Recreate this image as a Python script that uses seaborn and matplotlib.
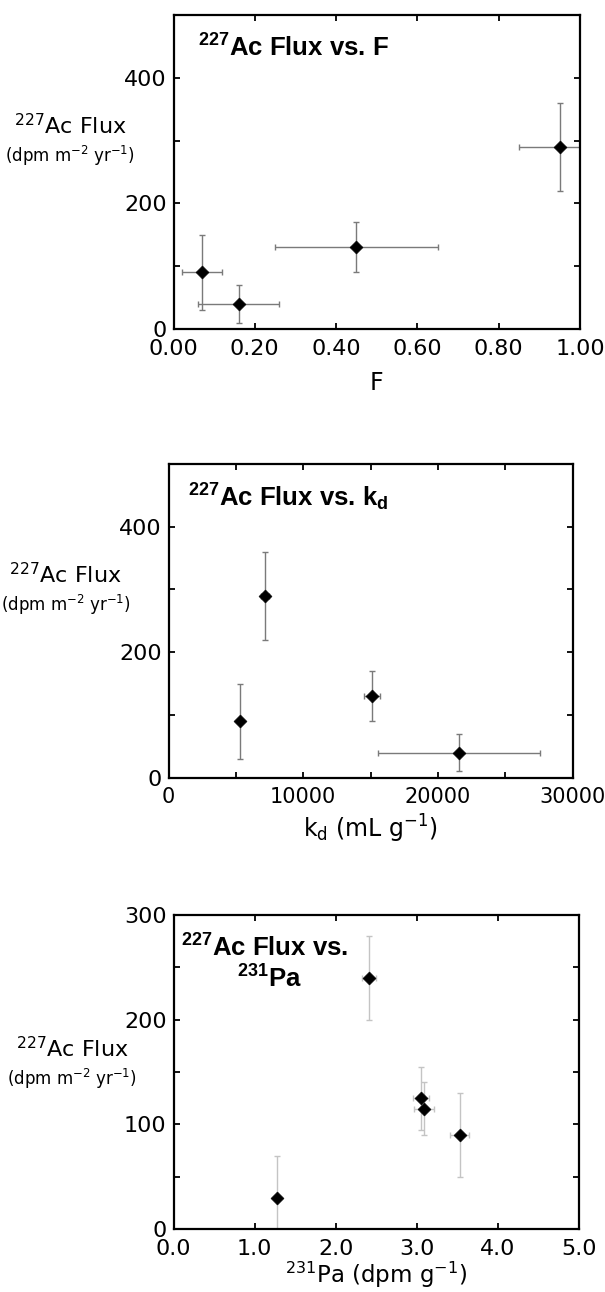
import matplotlib
matplotlib.use("Agg")
import matplotlib.pyplot as plt
from matplotlib.ticker import MultipleLocator, FormatStrFormatter
import seaborn as sns

# ---------------- data ----------------
# Panel 1: 227Ac flux vs F
f_vals = [0.07, 0.16, 0.45, 0.95]
f_err = [0.05, 0.10, 0.20, 0.10]
flux_f = [90, 40, 130, 290]
flux_f_err = [60, 30, 40, 70]

# Panel 2: 227Ac flux vs kd
kd_vals = [5300, 7150, 15100, 21550]
kd_err = [0, 300, 600, 6000]
flux_kd = [90, 290, 130, 40]
flux_kd_err = [60, 70, 40, 30]

# Panel 3: 227Ac flux vs 231Pa
pa_vals = [1.28, 2.41, 3.05, 3.09, 3.53]
pa_err = [0, 0.09, 0.10, 0.12, 0.115]
flux_pa = [30, 240, 125, 115, 90]
flux_pa_err = [40, 40, 30, 25, 40]

# ---------------- style ----------------
sns.set_theme(style="ticks")
plt.rcParams["font.family"] = ["DejaVu Sans"]
plt.rcParams["mathtext.default"] = "regular"
plt.rcParams["axes.edgecolor"] = "black"
plt.rcParams["xtick.color"] = "black"
plt.rcParams["ytick.color"] = "black"
plt.rcParams["text.color"] = "black"
plt.rcParams["axes.labelcolor"] = "black"

W, H = 605, 1292
fig = plt.figure(figsize=(W / 100, H / 100), dpi=100)


def add_axes(left, top, right, bottom):
    return fig.add_axes([left / W, 1 - bottom / H, (right - left) / W, (bottom - top) / H])


ax1 = add_axes(173.5, 15, 580, 329)
ax2 = add_axes(168.5, 464, 572.7, 777.7)
ax3 = add_axes(173.5, 915, 579, 1229)

TITLE_FONT = dict(family=["Liberation Sans"], fontweight="bold", fontsize=18.5)


def draw(ax, x, xe, y, ye, ecolor):
    ax.errorbar(x, y, xerr=xe, yerr=ye, fmt="none", ecolor=ecolor,
                elinewidth=1.0, capsize=2.2, capthick=1.0, zorder=2)
    sns.scatterplot(x=x, y=y, marker="D", color="black", s=44,
                    edgecolor="black", linewidth=0.4, ax=ax, zorder=3, legend=False)
    ax.tick_params(which="both", direction="in", top=True, right=True,
                   labeltop=False, labelright=False, length=4.2, width=1.3,
                   labelsize=16)
    ax.tick_params(axis="x", which="both", pad=7)
    ax.tick_params(axis="y", which="both", pad=5)
    for sp in ax.spines.values():
        sp.set_linewidth(1.6)
        sp.set_color("black")
        sp.set_visible(True)


# Panel 1
draw(ax1, f_vals, f_err, flux_f, flux_f_err, "#7a7a7a")
ax1.set_xlim(0, 1.0)
ax1.set_ylim(0, 500)
ax1.xaxis.set_major_locator(MultipleLocator(0.2))
ax1.xaxis.set_major_formatter(FormatStrFormatter("%.2f"))
ax1.yaxis.set_major_locator(MultipleLocator(200))
ax1.yaxis.set_minor_locator(MultipleLocator(100))
ax1.set_xlabel("F", fontsize=17)
ax1.xaxis.set_label_coords(0.5, -(390 - 329) / 314)
ax1.xaxis.label.set_va("baseline")
ax1.set_ylabel("")
ax1.text(0.060, 0.866, r"$^{227}$Ac Flux vs. F", transform=ax1.transAxes,
         ha="left", va="baseline", **TITLE_FONT)

# Panel 2
draw(ax2, kd_vals, kd_err, flux_kd, flux_kd_err, "#7a7a7a")
ax2.tick_params(axis="x", labelsize=15)
ax2.set_xlim(0, 30000)
ax2.set_ylim(0, 500)
ax2.xaxis.set_major_locator(MultipleLocator(10000))
ax2.xaxis.set_minor_locator(MultipleLocator(5000))
ax2.xaxis.set_major_formatter(FormatStrFormatter("%d"))
ax2.yaxis.set_major_locator(MultipleLocator(200))
ax2.yaxis.set_minor_locator(MultipleLocator(100))
ax2.set_xlabel(r"k$_{d}$ (mL g$^{-1}$)", fontsize=17)
ax2.xaxis.set_label_coords(0.5, -(838 - 777.7) / 313.7)
ax2.xaxis.label.set_va("baseline")
ax2.set_ylabel("")
ax2.text(0.048, 0.866, r"$^{227}$Ac Flux vs. k$_{d}$", transform=ax2.transAxes,
         ha="left", va="baseline", **TITLE_FONT)

# Panel 3
draw(ax3, pa_vals, pa_err, flux_pa, flux_pa_err, "#c4c4c4")
ax3.set_xlim(0, 5.0)
ax3.set_ylim(0, 300)
ax3.xaxis.set_major_locator(MultipleLocator(1.0))
ax3.xaxis.set_major_formatter(FormatStrFormatter("%.1f"))
ax3.yaxis.set_major_locator(MultipleLocator(100))
ax3.yaxis.set_minor_locator(MultipleLocator(50))
ax3.set_xlabel(r"$^{231}$Pa (dpm g$^{-1}$)", fontsize=16.5)
ax3.xaxis.set_label_coords(0.5, -(1283 - 1229) / 314)
ax3.xaxis.label.set_va("baseline")
ax3.set_ylabel("")
ax3.text(0.018, 0.866, r"$^{227}$Ac Flux vs.", transform=ax3.transAxes,
         ha="left", va="baseline", **TITLE_FONT)
ax3.text(0.157, 0.7675, r"$^{231}$Pa", transform=ax3.transAxes,
         ha="left", va="baseline", **TITLE_FONT)

# y-axis labels (horizontal, two lines)
for (xc, yb1, yb2) in [(70, 134, 162), (65.5, 583, 611), (72, 1057, 1085)]:
    fig.text(xc / W, 1 - yb1 / H, r"$^{227}$Ac Flux", ha="center", va="baseline", fontsize=16)
    fig.text(xc / W, 1 - yb2 / H, r"(dpm m$^{-2}$ yr$^{-1}$)", ha="center", va="baseline", fontsize=12)

fig.savefig("out.png", dpi=100)
